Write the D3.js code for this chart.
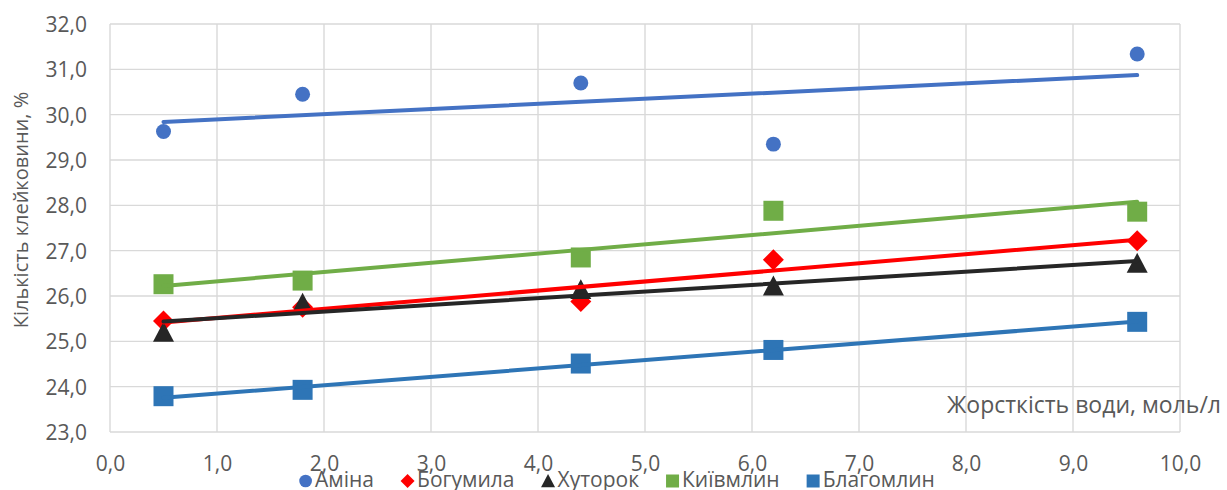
<!DOCTYPE html>
<html>
<head>
<meta charset="utf-8">
<script src="https://cdn.jsdelivr.net/npm/d3@7"></script>
<style>
  html, body { margin: 0; padding: 0; background: #fff; }
  svg { display: block; }
  text { font-family: "Open Sans", "Noto Sans", sans-serif; fill: #595959; }
</style>
</head>
<body>
<svg id="chart" width="1227" height="490"></svg>
<script>
// Water hardness, mol/l
const hardness = [0.5, 1.8, 4.4, 6.2, 9.6];

// Gluten content, % for each flour
const seriesNames = ["Аміна", "Богумила", "Хуторок", "Київмлин", "Благомлин"];
const amina     = [29.63, 30.45, 30.70, 29.35, 31.34];
const bohumyla  = [25.45, 25.75, 25.88, 26.80, 27.22];
const khutorok  = [25.20, 25.84, 26.14, 26.22, 26.72];
const kyivmlyn  = [26.26, 26.34, 26.85, 27.88, 27.86];
const blahomlyn = [23.79, 23.93, 24.51, 24.81, 25.43];

const xTicks = [0, 1, 2, 3, 4, 5, 6, 7, 8, 9, 10];
const yTicks = [23, 24, 25, 26, 27, 28, 29, 30, 31, 32];

const xTitle = "Жорсткість води, моль/л";
const yTitle = "Кількість клейковини, %";

const styles = [
  { color: "#4472C4", shape: "circle" },
  { color: "#FF0000", shape: "diamond" },
  { color: "#262626", shape: "triangle" },
  { color: "#70AD47", shape: "square" },
  { color: "#2E75B6", shape: "square" }
];
const values = [amina, bohumyla, khutorok, kyivmlyn, blahomlyn];

const svg = d3.select("#chart");
const plot = { left: 110, right: 1180, top: 24, bottom: 432 };

const x = d3.scaleLinear().domain([0, 10]).range([plot.left, plot.right]);
const y = d3.scaleLinear().domain([23, 32]).range([plot.bottom, plot.top]);

const fmt = v => d3.format(".1f")(v).replace(".", ",");
const tickFont = 21;

// grid
const grid = svg.append("g").attr("stroke", "#D9D9D9").attr("stroke-width", 1.4);
grid.selectAll("line.v").data(xTicks).join("line")
  .attr("x1", d => x(d)).attr("x2", d => x(d))
  .attr("y1", plot.top).attr("y2", plot.bottom);
grid.selectAll("line.h").data(yTicks).join("line")
  .attr("x1", plot.left).attr("x2", plot.right)
  .attr("y1", d => y(d)).attr("y2", d => y(d));

// axes (labels only; lines come from the grid)
const xAxis = d3.axisBottom(x).tickValues(xTicks).tickFormat(fmt).tickSize(0).tickPadding(0);
const gx = svg.append("g").attr("transform", `translate(0,${plot.bottom + 24})`).call(xAxis);
gx.select(".domain").remove();
gx.selectAll("text").attr("font-size", tickFont).attr("fill", "#595959")
  .attr("font-family", "'Open Sans', sans-serif").attr("dy", "0.71em");

const yAxis = d3.axisLeft(y).tickValues(yTicks).tickFormat(fmt).tickSize(0).tickPadding(0);
const gy = svg.append("g").attr("transform", `translate(${plot.left - 23},0)`).call(yAxis);
gy.select(".domain").remove();
gy.selectAll("text").attr("font-size", tickFont).attr("fill", "#595959")
  .attr("font-family", "'Open Sans', sans-serif").attr("dy", "0.35em");

// axis titles
svg.append("text")
  .attr("transform", `translate(28,210) rotate(-90)`)
  .attr("text-anchor", "middle")
  .attr("font-size", 20)
  .text(yTitle);

svg.append("text")
  .attr("x", 1221).attr("y", 413)
  .attr("text-anchor", "end")
  .attr("font-size", 23)
  .text(xTitle);

// marker paths
function markerPath(shape, s) {
  const h = s / 2;
  switch (shape) {
    case "circle":
      return d3.symbol(d3.symbolCircle, Math.PI * h * h * 0.56)();
    case "square":
      return `M${-h},${-h}H${h}V${h}H${-h}Z`;
    case "diamond":
      return `M0,${-h}L${h},0L0,${h}L${-h},0Z`;
    case "triangle":
      return `M0,${-h}L${h},${h * 0.9}L${-h},${h * 0.9}Z`;
  }
}
const markerSize = { circle: 20, square: 20, diamond: 21, triangle: 21 };
const legendSize = { circle: 17, square: 13, diamond: 14, triangle: 14 };

// linear least-squares trend for each series
function fit(xs, ys) {
  const mx = d3.mean(xs), my = d3.mean(ys);
  const sxy = d3.sum(xs, (v, i) => (v - mx) * (ys[i] - my));
  const sxx = d3.sum(xs, v => (v - mx) ** 2);
  const b = sxy / sxx;
  return v => my + b * (v - mx);
}

const xExt = d3.extent(hardness);

values.forEach((ys, i) => {
  const st = styles[i];
  const g = svg.append("g");
  g.selectAll("path").data(ys).join("path")
    .attr("d", markerPath(st.shape, markerSize[st.shape]))
    .attr("transform", (d, j) => `translate(${x(hardness[j])},${y(d)})`)
    .attr("fill", st.color);
});

values.forEach((ys, i) => {
  const st = styles[i];
  const f = fit(hardness, ys);
  svg.append("line")
    .attr("x1", x(xExt[0])).attr("y1", y(f(xExt[0])))
    .attr("x2", x(xExt[1])).attr("y2", y(f(xExt[1])))
    .attr("stroke", st.color).attr("stroke-width", 4)
    .attr("stroke-linecap", "round");
});

// legend
const legend = svg.append("g").attr("transform", "translate(0,481)");
const items = [];
seriesNames.forEach((name, i) => {
  const st = styles[i];
  const it = legend.append("g");
  it.append("path")
    .attr("d", markerPath(st.shape, legendSize[st.shape]))
    .attr("fill", st.color)
    .attr("transform", "translate(6.5,0)");
  const t = it.append("text").attr("x", 16).attr("y", 6)
    .attr("font-size", tickFont).text(name);
  const w = 16 + t.node().getComputedTextLength();
  items.push({ it, w });
});
const gap = 27;
const total = d3.sum(items, d => d.w) + gap * (items.length - 1);
let pos = 617 - total / 2;
items.forEach(d => {
  d.it.attr("transform", `translate(${pos},0)`);
  pos += d.w + gap;
});
</script>
</body>
</html>
